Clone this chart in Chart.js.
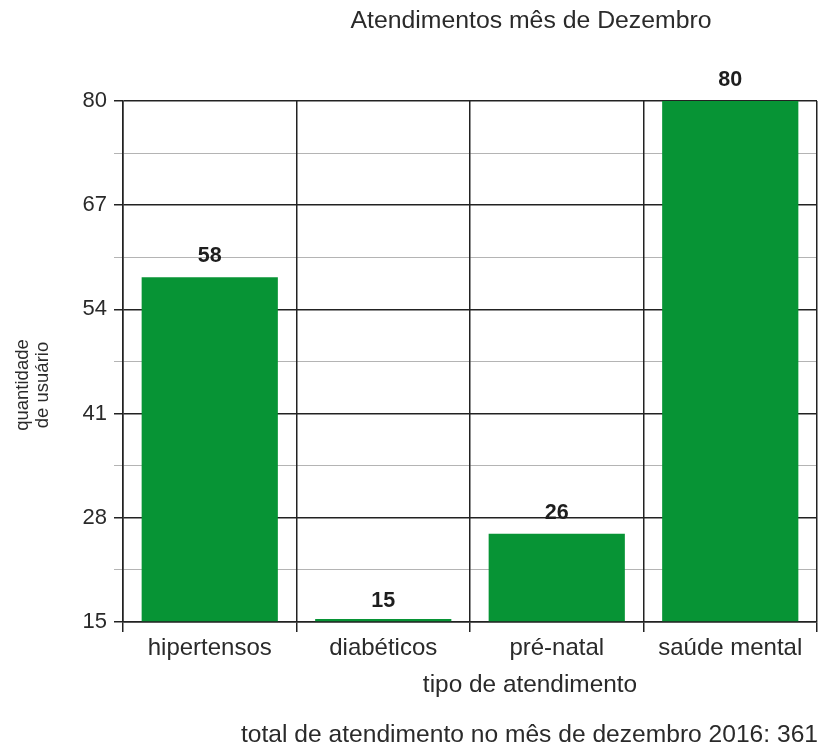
<!DOCTYPE html>
<html>
<head>
<meta charset="utf-8">
<script src="https://cdn.jsdelivr.net/npm/chart.js@4/dist/chart.umd.min.js"></script>
<style>
  html, body { margin: 0; padding: 0; background: #fff; }
  #wrap { width: 819px; height: 746px; position: relative; }
</style>
</head>
<body>
<div id="wrap"><canvas id="c"></canvas></div>
<script>
const categories = ['hipertensos', 'diabéticos', 'pré-natal', 'saúde mental'];
const values = [58, 15, 26, 80];
const yTickLabels = [15, 28, 41, 54, 67, 80];
const yMinorLines = [21.5, 34.5, 47.5, 60.5, 73.5];
const chartTitle = 'Atendimentos mês de Dezembro';
const xTitle = 'tipo de atendimento';
const yTitle = ['quantidade', 'de usuário'];
const footer = 'total de atendimento no mês de dezembro 2016: 361';

const FONT = '"Liberation Sans", Arial, sans-serif';
const isMajor = v => yTickLabels.includes(v);

const textPlugin = {
  id: 'texts',
  afterDatasetsDraw(chart) {
    const ctx = chart.ctx;
    const meta = chart.getDatasetMeta(0);
    ctx.save();
    ctx.fillStyle = '#1e1e1e';
    ctx.font = 'bold 21.5px ' + FONT;
    ctx.textAlign = 'center';
    ctx.textBaseline = 'middle';
    meta.data.forEach((bar, i) => {
      const top = chart.scales.y.getPixelForValue(values[i]);
      ctx.fillText(String(values[i]), bar.x, top - 21);
    });
    ctx.restore();
  },
  afterDraw(chart) {
    const ctx = chart.ctx;
    ctx.save();
    ctx.fillStyle = '#2a2a2a';
    ctx.textBaseline = 'middle';
    ctx.textAlign = 'center';
    ctx.font = '24.8px ' + FONT;
    ctx.fillText(chartTitle, 531, 21);
    ctx.font = '24.4px ' + FONT;
    ctx.fillText(xTitle, 530, 685);
    ctx.textAlign = 'right';
    ctx.font = '24.6px ' + FONT;
    ctx.fillText(footer, 818, 735);
    ctx.save();
    ctx.translate(23, 385);
    ctx.rotate(-Math.PI / 2);
    ctx.textAlign = 'center';
    ctx.font = '18.5px ' + FONT;
    ctx.fillText(yTitle[0], 0, 0);
    ctx.fillText(yTitle[1], 0, 20);
    ctx.restore();
    ctx.restore();
  }
};

new Chart(document.getElementById('c'), {
  type: 'bar',
  data: {
    labels: categories,
    datasets: [{
      data: values,
      base: 15,
      backgroundColor: '#079435',
      borderWidth: 0,
      barPercentage: 0.785,
      categoryPercentage: 1,
      minBarLength: 3,
      clip: false
    }]
  },
  options: {
    responsive: true,
    maintainAspectRatio: false,
    animation: false,
    layout: { padding: { top: 101, right: 2, bottom: 0, left: 0 } },
    plugins: {
      legend: { display: false },
      title: { display: false },
      tooltip: { enabled: false }
    },
    scales: {
      y: {
        min: 15,
        max: 80,
        afterBuildTicks(scale) {
          scale.ticks = yTickLabels.concat(yMinorLines).sort((a, b) => a - b).map(v => ({ value: v }));
        },
        afterFit(scale) { scale.width = 123; },
        ticks: {
          autoSkip: false,
          padding: 7,
          color: '#2a2a2a',
          font: { family: FONT, size: 22 },
          callback: v => isMajor(v) ? String(v) : ''
        },
        grid: {
          color: c => isMajor(c.tick.value) ? '#222' : '#b4b4b4',
          tickColor: c => isMajor(c.tick.value) ? '#222' : '#b4b4b4',
          lineWidth: c => isMajor(c.tick.value) ? 1.5 : 1,
          tickLength: 9
        },
        border: { display: true, color: '#222', width: 1.5 }
      },
      x: {
        afterFit(scale) { scale.height = 124; },
        ticks: {
          padding: 2,
          color: '#2a2a2a',
          font: { family: FONT, size: 24 }
        },
        grid: {
          offset: true,
          color: '#222',
          lineWidth: 1.5,
          tickLength: 10
        },
        border: { display: true, color: '#222', width: 1.5 }
      }
    }
  },
  plugins: [textPlugin]
});
</script>
</body>
</html>
